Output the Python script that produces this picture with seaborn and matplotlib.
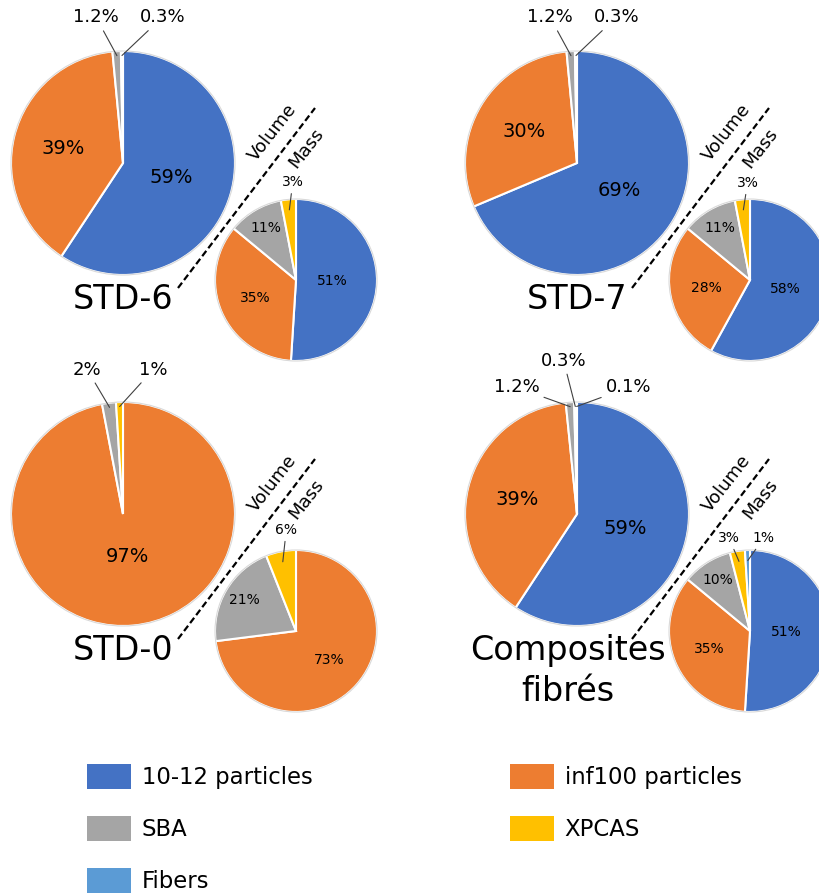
import numpy as np
import matplotlib.pyplot as plt
import seaborn as sns
from matplotlib.patches import Patch, Circle

# ---- data ----
categories = ["10-12 particles", "inf100 particles", "SBA", "XPCAS", "Fibers"]
colors = sns.color_palette(["#4472C4", "#ED7D31", "#A5A5A5", "#FFC000", "#5B9BD5"])

samples = ["STD-6", "STD-7", "STD-0", "Composites\nfibrés"]

# percentages, same order as categories
std6_volume = [59, 39, 1.2, 0.3, 0]
std6_mass = [51, 35, 11, 3, 0]
std7_volume = [69, 30, 1.2, 0.3, 0]
std7_mass = [58, 28, 11, 3, 0]
std0_volume = [0, 97, 2, 1, 0]
std0_mass = [0, 73, 21, 6, 0]
comp_volume = [59, 39, 1.2, 0.3, 0.1]
comp_mass = [51, 35, 10, 3, 1]

volumes = [std6_volume, std7_volume, std0_volume, comp_volume]
masses = [std6_mass, std7_mass, std0_mass, comp_mass]

# ---- layout (figure pixels, origin top-left) ----
W, H = 820, 894
panel_x = [123, 577, 123, 577]
panel_y = [163, 163, 514, 514]
BIG_R, SMALL_R = 112, 81
SMALL_DX, SMALL_DY = 173, -117
title_dx = [0, 0, 0, -9]

# where inside a wedge its label sits (fraction of radius), by category
inner_r = [0.45, 0.55, 0.74, 0.6, 0.6]

# outer labels for small slices (offsets in radius units)
big_out = [
    [(-0.24, 1.30), (0.35, 1.30)],
    [(-0.24, 1.30), (0.35, 1.30)],
    [(-0.32, 1.29), (0.27, 1.29)],
    [(-0.54, 1.13), (-0.12, 1.37), (0.46, 1.13)],
]
small_out = [
    [(-0.04, 1.21)],
    [(-0.03, 1.20)],
    [(-0.12, 1.25)],
    [(-0.26, 1.15), (0.17, 1.15)],
]

sns.set_theme(style="white")
plt.rcParams["font.family"] = ["DejaVu Sans"]
plt.rcParams["text.color"] = "black"

fig = plt.figure(figsize=(8.2, 8.94), dpi=100)
ax = fig.add_axes([0, 0, 1, 1])


def draw_pie(values, cx, cy, r, fs_in, fs_out, out_offsets, tip):
    idx = [i for i, v in enumerate(values) if v > 0]
    vals = [values[i] for i in idx]
    wedges, _ = ax.pie(vals, colors=[colors[i] for i in idx], startangle=90,
                       counterclock=False, center=(cx, cy), radius=r,
                       wedgeprops=dict(edgecolor="white", linewidth=1.5))
    ax.add_patch(Circle((cx, cy), r, fill=False, edgecolor="#d9d9d9", lw=0.8))
    total = sum(vals)
    k = 0
    for w, i, v in zip(wedges, idx, vals):
        mid = np.deg2rad((w.theta1 + w.theta2) / 2)
        txt = f"{v:g}%"
        if v / total >= 0.08:
            f = 0.38 if v / total > 0.9 else inner_r[i]
            ax.text(cx + f * r * np.cos(mid), cy + f * r * np.sin(mid), txt,
                    ha="center", va="center", fontsize=fs_in)
        else:
            ox, oy = out_offsets[k]
            k += 1
            ax.annotate(txt,
                        xy=(cx + tip * r * np.cos(mid), cy + tip * r * np.sin(mid)),
                        xytext=(cx + ox * r, cy + oy * r),
                        ha="center", va="center", fontsize=fs_out,
                        arrowprops=dict(arrowstyle="-", color="#404040", lw=0.8,
                                        shrinkA=1, shrinkB=0))


for p in range(4):
    cx = panel_x[p]
    cy = H - panel_y[p]
    draw_pie(volumes[p], cx, cy, BIG_R, 14, 13, big_out[p], 0.96)
    draw_pie(masses[p], cx + SMALL_DX, cy + SMALL_DY, SMALL_R, 10, 10, small_out[p], 0.87)

    # separator between volume and mass
    ax.plot([cx + 55, cx + 192], [cy - 125, cy + 55], ls=(0, (3, 1.5)),
            color="black", lw=1.6)
    ax.text(cx + 150, cy + 31, "Volume", rotation=52, ha="center", va="center",
            fontsize=13)
    ax.text(cx + 183, cy + 15, "Mass", rotation=52, ha="center", va="center",
            fontsize=13)

    ax.text(cx + title_dx[p], cy - 120, samples[p], ha="center", va="top",
            fontsize=24, linespacing=1.3)

ax.set_xlim(0, W)
ax.set_ylim(0, H)
ax.set_aspect("equal")
ax.axis("off")

# legend: column 1 = blue, gray, fibers ; column 2 = orange, yellow
order = [0, 2, 4, 1, 3]
handles = [Patch(facecolor=colors[i], edgecolor="none", label=categories[i]) for i in order]
fig.legend(handles=handles, ncol=2, loc="upper left",
           bbox_to_anchor=(87 / W, 1 - 764 / H), frameon=False, borderpad=0,
           borderaxespad=0, fontsize=16.4, handlelength=1.93, handleheight=1.31,
           handletextpad=0.48, labelspacing=1.18, columnspacing=8.66)

fig.savefig("out.png", dpi=100)
